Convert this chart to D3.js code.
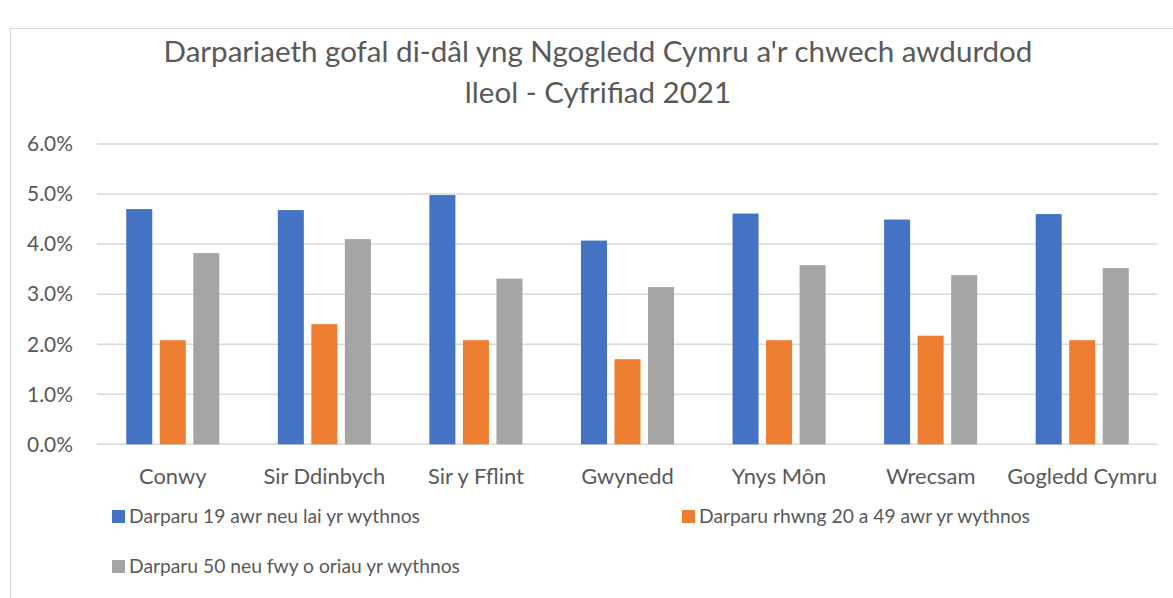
<!DOCTYPE html>
<html><head><meta charset="utf-8">
<script src="https://cdn.jsdelivr.net/npm/d3@7"></script>
<style>body{margin:0;background:#fff}svg{display:block}</style>
</head><body>
<script>
const categories = ["Conwy","Sir Ddinbych","Sir y Fflint","Gwynedd","Ynys Môn","Wrecsam","Gogledd Cymru"];
const seriesNames = ["Darparu 19 awr neu lai yr wythnos","Darparu rhwng 20 a 49 awr yr wythnos","Darparu 50 neu fwy o oriau yr wythnos"];
const series19 = [4.70,4.68,4.98,4.07,4.61,4.49,4.60];
const series20to49 = [2.08,2.40,2.08,1.70,2.08,2.17,2.08];
const series50 = [3.82,4.10,3.31,3.14,3.58,3.38,3.52];
const yTicks = [0,1,2,3,4,5,6];
const titleLines = ["Darpariaeth gofal di-dâl yng Ngogledd Cymru a'r chwech awdurdod","lleol - Cyfrifiad 2021"];
const colors = ["#4472c4","#ed7d31","#a5a5a5"];

const W=1173,H=598;
const FONT="Lato, 'Open Sans', sans-serif";
const svg=d3.select("body").append("svg").attr("width",W).attr("height",H);
svg.append("rect").attr("x",10.5).attr("y",28.5).attr("width",W+10).attr("height",H).attr("fill","#fff").attr("stroke","#d9d9d9").attr("stroke-width",1);

function fit(sel,target){
  const n=sel.node(); const w=n.getComputedTextLength(); const fs=parseFloat(sel.attr("font-size"));
  return fs*target/w;
}

const plot={l:97,r:1158,t:144,b:444.3};
const x0=d3.scaleBand().domain(categories).range([plot.l,plot.r]);
const x1=d3.scaleBand().domain([0,1,2]).range([x0.bandwidth()*0.193,x0.bandwidth()*0.807]).paddingInner(0.224);
const y=d3.scaleLinear().domain([0,6]).range([plot.b,plot.t]);

svg.append("g").selectAll("line").data(yTicks).join("line")
 .attr("x1",plot.l).attr("x2",plot.r).attr("y1",d=>y(d)).attr("y2",d=>y(d))
 .attr("stroke","#d9d9d9").attr("stroke-width",1.5);

const yl=svg.append("g").attr("font-family",FONT).attr("fill","#595959");
const yt=yl.selectAll("text").data(yTicks).join("text")
 .attr("x",73).attr("y",d=>y(d)).attr("dy","0.35em").attr("text-anchor","end")
 .attr("font-size",18).text(d=>d.toFixed(1)+"%");
const yfs=fit(yt.filter((d,i)=>i===6),46); yt.attr("font-size",yfs);

const all=[series19,series20to49,series50];
const g=svg.append("g");
categories.forEach((c,ci)=>{
  g.append("g").selectAll("rect").data([0,1,2]).join("rect")
   .attr("x",s=>x0(c)+x1(s)).attr("width",x1.bandwidth())
   .attr("y",s=>y(all[s][ci])).attr("height",s=>y(0)-y(all[s][ci]))
   .attr("fill",s=>colors[s]);
});

const cl=svg.append("g").attr("font-family",FONT).attr("fill","#595959").selectAll("text").data(categories).join("text")
 .attr("x",d=>x0(d)+x0.bandwidth()/2).attr("y",476.5).attr("dy","0.35em").attr("text-anchor","middle")
 .attr("font-size",18).text(d=>d);
const cfs=fit(cl.filter((d,i)=>i===6),150); cl.attr("font-size",cfs);

const tt=svg.append("g").attr("font-family",FONT).attr("fill","#595959").selectAll("text").data(titleLines).join("text")
 .attr("x",598).attr("y",(d,i)=>52+i*41).attr("dy","0.35em").attr("text-anchor","middle").attr("font-size",24).text(d=>d);
const tfs=fit(tt.filter((d,i)=>i===0),869); tt.attr("font-size",tfs);

const legPos=[{x:112,y:516.5},{x:682,y:516.5},{x:112,y:566.5}];
const lg=svg.append("g").attr("font-family",FONT).attr("fill","#595959");
lg.selectAll("rect").data(seriesNames).join("rect")
 .attr("x",(d,i)=>legPos[i].x).attr("y",(d,i)=>legPos[i].y-6.5).attr("width",13).attr("height",13).attr("fill",(d,i)=>colors[i]);
const lt=lg.selectAll("text").data(seriesNames).join("text")
 .attr("x",(d,i)=>legPos[i].x+17).attr("y",(d,i)=>legPos[i].y).attr("dy","0.35em").attr("font-size",18).text(d=>d);
const lfs=fit(lt.filter((d,i)=>i===0),291); lt.attr("font-size",lfs);
</script>
</body></html>
